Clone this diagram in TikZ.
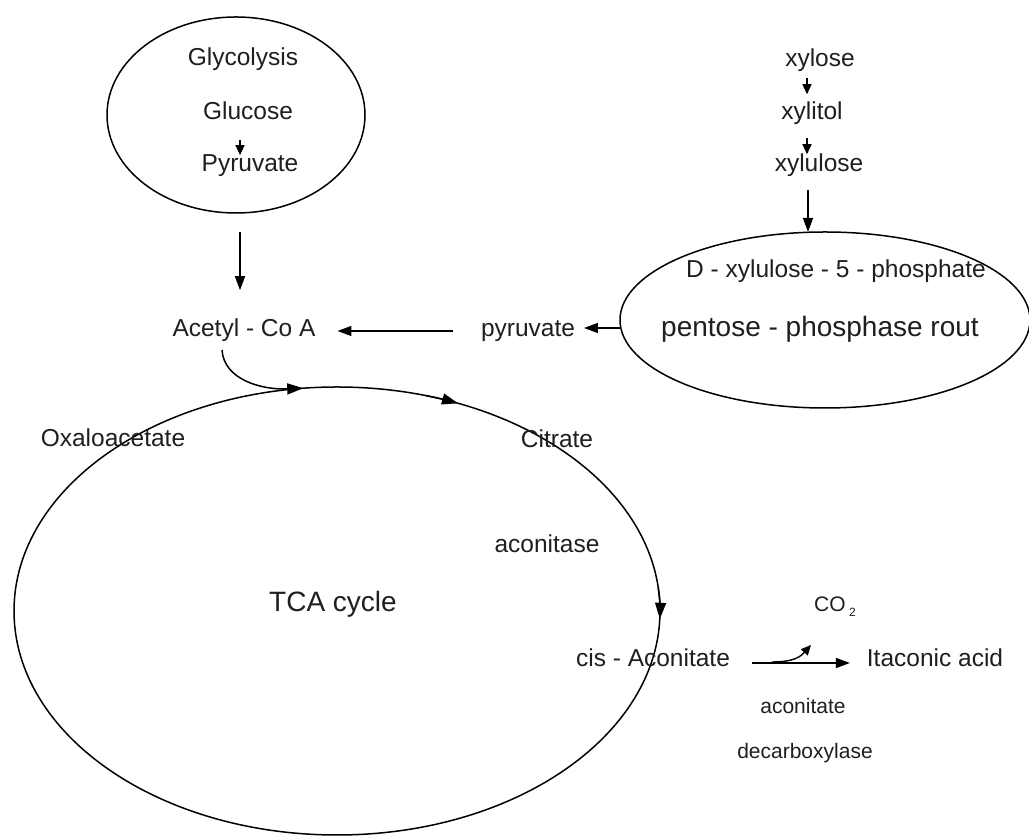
\documentclass[tikz,border=0pt]{standalone}
\usepackage{fontspec}
\setmainfont{Liberation Sans}
\usetikzlibrary{arrows.meta,shapes.geometric}
\begin{document}
\begin{tikzpicture}[x=1pt,y=1pt,
  txt/.style={anchor=base,inner sep=0pt,outer sep=0pt,text=black!88,font=\fontsize{24.5}{28}\selectfont},
  bigtxt/.style={txt,font=\fontsize{28}{32}\selectfont},
  smalltxt/.style={txt,font=\fontsize{21}{25}\selectfont},
  oval/.style={draw,ellipse,line width=1.5pt,inner sep=0pt,outer sep=0pt},
  arr/.style={line width=1.4pt,-{Triangle[length=14pt,width=10pt]}},
  sarr/.style={line width=1.4pt,-{Triangle[length=10pt,width=9pt]}},
  cyc/.style={line width=1.5pt,-{Triangle[length=16pt,width=11pt]}}
]
\useasboundingbox (0,0) rectangle (1029,837);
\fill[white] (0,0) rectangle (1029,837);

% ellipses
\node[oval,minimum width=258pt,minimum height=196pt] (glyE) at (236,722) {};
\node[oval,minimum width=410pt,minimum height=176pt] (pppE) at (825,517) {};
\node[oval,minimum width=646pt,minimum height=448pt] (tcaE) at (337,226) {};

% texts
\node[txt] (gly) at (243,771) {Glycolysis};
\node[txt] (glu) at (248,717) {Glucose};
\node[txt] (pyr1) at (250,665) {Pyruvate};
\node[txt] (acet) at (244,500) {Acetyl - Co A};
\node[txt] (pyr2) at (528,500) {pyruvate};
\node[txt] (xylose) at (820,770) {xylose};
\node[txt] (xylitol) at (812,717) {xylitol};
\node[txt] (xylulose) at (819,665) {xylulose};
\node[txt] (d5p) at (836,559) {D - xylulose - 5 - phosphate};
\node[bigtxt] (ppp) at (820,500) {pentose - phosphase rout};
\node[txt] (oxa) at (113,390) {Oxaloacetate};
\node[txt] (cit) at (557,389) {Citrate};
\node[txt] (acon) at (547,284) {aconitase};
\node[bigtxt] (tca) at (333,225) {TCA cycle};
\node[txt] (cis) at (653,170) {cis - Aconitate};
\node[txt] (ita) at (935,170) {Itaconic acid};
\node[smalltxt] (co2) at (835,225) {CO\,\raisebox{-5pt}{\fontsize{12}{12}\selectfont 2}};
\node[smalltxt] (ad1) at (803,123) {aconitate};
\node[smalltxt] (ad2) at (805,78) {decarboxylase};

% connectors
\draw[sarr] ([xshift=-8pt,yshift=-20pt]glu.base) -- ([xshift=-10pt]pyr1.north);
\draw[arr] ([xshift=4pt,yshift=-19pt]glyE.south) -- ([xshift=-4pt,yshift=29pt]acet.north);
\draw[arr] ([xshift=-28pt,yshift=6pt]pyr2.base west) -- ([xshift=22pt,yshift=6pt]acet.base east);
\draw[arr] ([yshift=-8pt]pppE.west) -- ([xshift=9pt,yshift=9pt]pyr2.base east);
\draw[sarr] ([xshift=-13pt,yshift=-11pt]xylose.base) -- ([xshift=-5pt,yshift=8pt]xylitol.north);
\draw[sarr] ([xshift=-5pt,yshift=-18pt]xylitol.base) -- ([xshift=-12pt,yshift=0pt]xylulose.north);
\draw[arr] ([xshift=-11pt,yshift=-18pt]xylulose.base) -- ([xshift=-17pt]pppE.north);

% acetyl-CoA joins the cycle
\draw[cyc] ([xshift=-22pt,yshift=-13pt]acet.base) .. controls (224,457) and (262,447) .. ([shift={(96:323pt and 224pt)}]tcaE.center);
% direction marks on the cycle
\draw[cyc] ([shift={(74:323pt and 224pt)}]tcaE.center) arc[start angle=74,end angle=68,x radius=323pt,y radius=224pt];
\draw[cyc] ([shift={(6:323pt and 224pt)}]tcaE.center) arc[start angle=6,end angle=-2,x radius=323pt,y radius=224pt];

% decarboxylation
\draw[arr] ([xshift=22pt,yshift=4pt]cis.base east) -- ([xshift=-17pt,yshift=4pt]ita.base west);
\draw[sarr] ([xshift=42pt,yshift=5pt]cis.base east) .. controls (795,175) and (801,181) .. ([xshift=-24pt,yshift=-33pt]co2.base);
\end{tikzpicture}
\end{document}
